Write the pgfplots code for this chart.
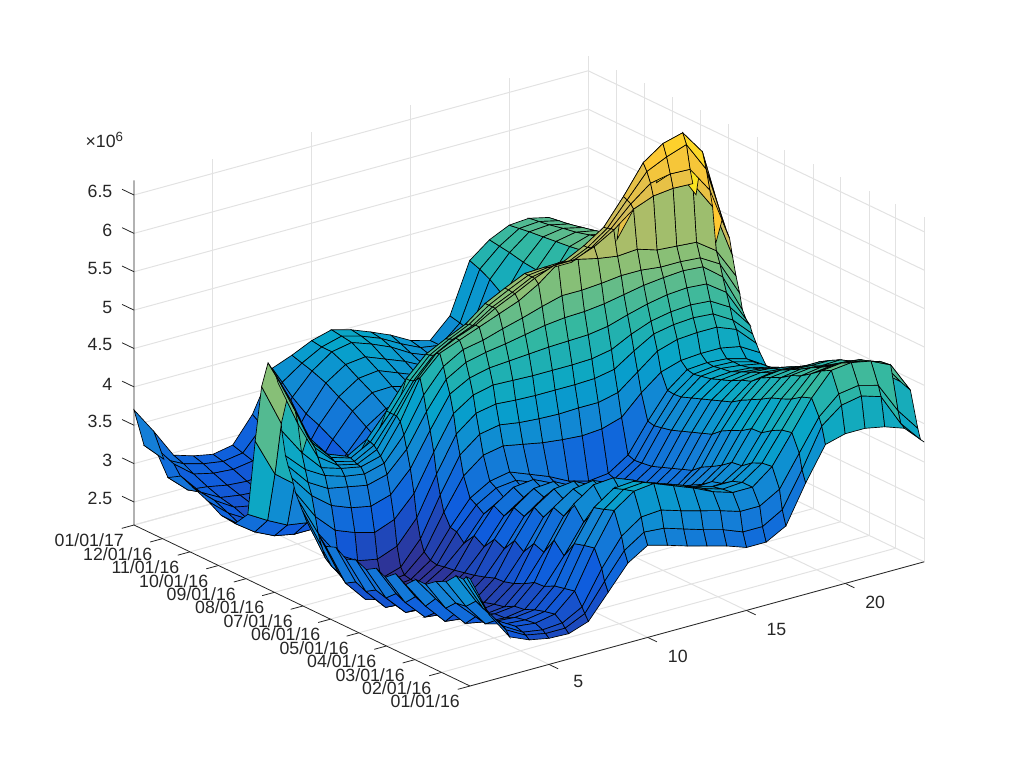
\documentclass[border=0pt]{standalone}
\usepackage{pgfplots}
\usepackage{pgfplotstable}
\usepackage{fontspec}
\setmainfont{Liberation Sans}
\pgfplotsset{compat=1.18}
\usetikzlibrary{calc}
\definecolor{axc}{RGB}{38,38,38}
\definecolor{grc}{RGB}{226,226,226}
\pgfplotstableread{
0 3.55 3.0 2.65 2.54 2.49 2.48 2.57 2.88 3.19 3.35 3.28 3.2 3.13 3.06 2.97 2.97 3.11 3.6 4.03 4.1 4.1 4.05 3.96 3.71
4 3.55 3.05 2.72 2.58 2.53 2.53 2.65 3.0 3.33 3.5 3.48 3.4 3.32 3.25 3.15 3.15 3.3 3.75 4.25 4.45 4.5 4.42 4.0 3.72
7 3.5 3.05 2.75 2.6 2.56 2.58 2.72 3.15 3.5 3.68 3.7 3.62 3.55 3.48 3.4 3.4 3.55 3.95 4.35 4.58 4.62 4.55 4.15 3.85
15 3.5 3.1 2.78 2.63 2.6 2.65 2.88 3.37 3.79 3.97 4.0 3.9 3.8 3.68 3.6 3.6 3.8 4.17 4.55 4.84 4.87 4.82 4.7 4.3
26 3.36 2.97 2.67 2.6 2.58 2.62 2.85 3.34 3.74 3.93 3.95 3.86 3.77 3.66 3.58 3.6 3.78 4.14 4.5 4.77 4.8 4.76 4.68 4.35
37 3.3 2.95 2.7 2.57 2.55 2.58 2.82 3.3 3.7 3.88 3.9 3.81 3.72 3.62 3.55 3.55 3.72 4.07 4.41 4.67 4.7 4.66 4.62 4.35
48 3.2 2.82 2.55 2.5 2.48 2.52 2.75 3.08 3.45 3.62 3.65 3.58 3.5 3.4 3.45 3.46 3.62 3.98 4.35 4.58 4.62 4.6 4.58 4.35
59 3.2 2.88 2.62 2.5 2.47 2.5 2.74 3.22 3.62 3.8 3.82 3.72 3.6 3.48 3.4 3.42 3.6 3.97 4.3 4.52 4.55 4.52 4.5 4.32
70 3.07 2.72 2.45 2.42 2.4 2.43 2.66 3.0 3.4 3.58 3.6 3.5 3.38 3.26 3.3 3.32 3.5 3.88 4.22 4.43 4.47 4.44 4.45 4.3
81 3.15 2.78 2.5 2.38 2.36 2.4 2.6 3.05 3.45 3.62 3.66 3.55 3.43 3.3 3.22 3.25 3.42 3.82 4.15 4.37 4.4 4.38 4.38 4.28
92 3.04 2.64 2.38 2.35 2.33 2.36 2.56 2.88 3.26 3.43 3.46 3.35 3.23 3.1 3.15 3.17 3.35 3.75 4.08 4.3 4.33 4.3 4.3 4.18
102 3.1 2.7 2.42 2.32 2.3 2.34 2.55 2.97 3.33 3.5 3.53 3.4 3.27 3.12 3.03 3.06 3.25 3.65 4.0 4.2 4.24 4.22 4.2 4.05
113 3.02 2.58 2.32 2.3 2.28 2.3 2.5 2.8 3.15 3.33 3.35 3.21 3.08 2.95 3.0 3.02 3.2 3.6 3.95 4.15 4.18 4.15 4.12 3.98
124 3.08 2.62 2.35 2.26 2.24 2.27 2.46 2.86 3.2 3.38 3.4 3.27 3.15 3.02 2.95 2.97 3.15 3.55 3.9 4.08 4.12 4.1 4.05 3.9
135 3.03 2.54 2.26 2.24 2.22 2.25 2.43 2.7 3.03 3.2 3.23 3.1 2.98 2.85 2.9 2.92 3.1 3.5 3.85 4.03 4.06 4.03 3.98 3.82
146 3.12 2.6 2.3 2.22 2.2 2.23 2.4 2.78 3.1 3.27 3.3 3.18 3.07 2.93 2.86 2.88 3.05 3.45 3.8 3.98 4.0 3.98 3.92 3.76
157 3.07 2.52 2.24 2.2 2.18 2.22 2.38 2.62 2.93 3.08 3.11 3.0 2.9 2.78 2.84 2.86 3.03 3.42 3.75 3.95 3.98 3.95 3.9 3.72
165 3.18 2.62 2.3 2.19 2.17 2.2 2.36 2.72 3.0 3.15 3.18 3.08 3.0 2.88 2.83 2.85 3.02 3.4 3.74 3.93 3.96 3.95 3.88 3.7
172 3.2 2.65 2.32 2.2 2.17 2.2 2.38 2.74 3.05 3.2 3.25 3.15 3.05 2.92 2.85 2.88 3.05 3.42 3.75 3.95 3.97 3.95 3.88 3.72
179 3.3 2.72 2.35 2.22 2.18 2.22 2.45 2.9 3.3 3.5 3.55 3.5 3.45 3.42 3.4 3.42 3.5 3.75 3.95 4.03 4.05 4.05 4.0 3.85
183 3.4 2.85 2.42 2.28 2.22 2.3 2.6 3.1 3.55 3.75 3.8 3.76 3.74 3.73 3.74 3.74 3.8 4.0 4.2 4.28 4.3 4.3 4.2 3.95
187 3.5 3.0 2.65 2.5 2.45 2.55 2.85 3.35 3.8 4.0 4.05 4.03 4.02 4.02 4.02 4.03 4.08 4.25 4.4 4.45 4.47 4.45 4.3 4.05
190 3.58 3.2 2.95 2.85 2.78 2.88 3.15 3.62 4.05 4.22 4.28 4.27 4.26 4.26 4.26 4.27 4.32 4.45 4.55 4.6 4.62 4.6 4.45 4.15
194 3.75 3.45 3.25 3.15 3.1 3.18 3.45 3.88 4.28 4.42 4.48 4.5 4.52 4.54 4.55 4.56 4.6 4.68 4.75 4.8 4.82 4.8 4.62 4.2
198 3.88 3.6 3.45 3.4 3.35 3.42 3.68 4.1 4.45 4.6 4.66 4.7 4.75 4.8 4.83 4.84 4.87 4.92 4.97 5.0 5.02 5.0 4.8 4.3
201 4.0 3.75 3.6 3.52 3.48 3.55 3.85 4.3 4.6 4.75 4.8 4.88 4.95 5.03 5.1 5.1 5.12 5.15 5.15 5.12 5.12 5.1 4.95 4.5
205 4.3 3.95 3.68 3.6 3.55 3.62 4.0 4.5 4.75 4.85 4.95 5.05 5.15 5.3 5.5 5.48 5.42 5.38 5.4 5.32 5.3 5.28 5.1 4.7
209 4.9 4.3 3.8 3.62 3.56 3.68 4.05 4.45 4.72 4.85 4.95 5.1 5.22 5.35 5.45 5.45 5.55 5.7 5.9 6.0 6.03 6.02 5.65 4.95
212 5.0 4.45 3.9 3.65 3.58 3.72 4.05 4.42 4.68 4.82 4.93 5.1 5.22 5.35 5.4 5.4 5.52 5.7 5.95 6.15 6.2 6.19 5.85 5.15
216 5.05 4.55 3.95 3.68 3.6 3.74 4.05 4.4 4.66 4.8 4.92 5.1 5.23 5.35 5.38 5.38 5.5 5.68 5.98 6.28 6.4 6.49 6.1 5.25
220 5.1 4.6 4.0 3.7 3.6 3.75 4.05 4.4 4.65 4.78 4.9 5.1 5.23 5.35 5.36 5.37 5.5 5.67 6.0 6.37 6.55 6.62 6.3 5.35
227 4.75 4.2 3.7 3.5 3.45 3.55 3.8 4.1 4.3 4.4 4.45 4.5 4.5 4.5 4.5 4.55 4.7 5.0 5.4 5.8 6.0 6.1 5.7 5.0
234 4.0 3.5 3.3 3.25 3.2 3.25 3.4 3.7 3.9 4.0 4.0 3.98 3.95 3.95 4.0 4.05 4.25 4.6 5.0 5.4 5.6 5.6 5.2 4.6
242 3.0 2.85 2.72 2.68 2.65 2.7 2.85 3.1 3.35 3.5 3.5 3.5 3.5 3.5 3.5 3.55 3.8 4.2 4.7 5.1 5.3 5.25 4.9 4.4
256 2.8 2.62 2.5 2.45 2.45 2.5 2.62 2.95 3.2 3.33 3.35 3.3 3.27 3.22 3.2 3.25 3.5 3.95 4.5 4.95 5.1 5.05 4.75 4.3
271 2.82 2.62 2.48 2.42 2.4 2.45 2.6 2.95 3.22 3.37 3.4 3.35 3.3 3.25 3.2 3.25 3.5 3.95 4.5 4.9 5.02 4.98 4.7 4.3
285 2.92 2.7 2.55 2.5 2.48 2.52 2.68 3.05 3.33 3.5 3.52 3.46 3.4 3.33 3.28 3.3 3.5 3.98 4.48 4.85 4.95 4.9 4.65 4.3
300 3.0 2.78 2.62 2.57 2.55 2.6 2.78 3.15 3.45 3.62 3.63 3.56 3.48 3.4 3.35 3.36 3.55 4.02 4.48 4.82 4.9 4.85 4.62 4.3
315 3.08 2.8 2.66 2.62 2.6 2.65 2.85 3.25 3.55 3.72 3.75 3.65 3.55 3.45 3.4 3.42 3.6 4.08 4.5 4.8 4.85 4.8 4.6 4.3
329 2.98 2.75 2.72 2.67 2.65 2.68 2.92 3.32 3.65 3.82 3.85 3.75 3.65 3.52 3.45 3.45 3.63 4.15 4.52 4.78 4.82 4.76 4.55 4.3
344 3.3 3.0 2.8 2.74 2.72 2.76 3.0 3.45 3.72 3.9 3.95 3.86 3.75 3.6 3.5 3.48 3.68 4.28 4.56 4.76 4.78 4.72 4.52 4.28
355 3.25 3.0 2.87 2.8 2.76 2.8 3.08 3.58 3.76 3.9 3.97 3.9 3.8 3.66 3.54 3.5 3.72 4.35 4.58 4.74 4.76 4.7 4.5 4.26
366 3.65 3.3 2.92 2.84 2.79 2.84 3.17 3.7 3.8 3.92 3.99 3.92 3.82 3.71 3.57 3.5 3.75 4.4 4.6 4.72 4.74 4.68 4.48 4.25
}\demand
\gdef\surfcoords{}
\pgfplotstablegetrowsof{\demand}\pgfmathtruncatemacro\lastrow{\pgfplotsretval-1}
\foreach \r in {0,...,\lastrow}{%
  \pgfplotstablegetelem{\r}{[index]0}\of\demand \let\thisday\pgfplotsretval
  \foreach \c in {1,...,24}{%
    \pgfplotstablegetelem{\r}{[index]\c}\of\demand
    \xdef\surfcoords{\surfcoords (\c,\thisday,\pgfplotsretval)}%
  }%
}
\pgfplotsset{
  colormap={parulaold}{rgb255=(53,42,135) rgb255=(15,92,221) rgb255=(20,129,214) rgb255=(6,164,202) rgb255=(46,183,164) rgb255=(135,191,119) rgb255=(209,187,89) rgb255=(254,200,50) rgb255=(249,251,14)}
}
\begin{document}
\begin{tikzpicture}
\begin{axis}[
  x={(14.81pt,4.05pt)}, y={(-0.6885pt,0.3299pt)}, z={(0pt,57.56pt)},
  xmin=1, xmax=24, ymin=0, ymax=366, zmin=2.2, zmax=6.69,
  clip=false,
  axis line style={draw=none},
  grid=major, grid style={grc, line width=0.75pt},
  xtick={5,10,15,20},
  ytick={0,31,60,91,121,152,182,213,244,274,305,335,366},
  yticklabels={01/01/16,02/01/16,03/01/16,04/01/16,05/01/16,06/01/16,07/01/16,08/01/16,09/01/16,10/01/16,11/01/16,12/01/16,01/01/17},
  ztick={2.5,3,3.5,4,4.5,5,5.5,6,6.5},
  scaled z ticks=false,
  tick align=outside, major tick length=0pt,
  ticklabel style={font=\fontsize{13.3}{15}\selectfont, text=axc, /pgf/number format/assume math mode=true},
  xticklabel style={xshift=16.5pt, yshift=-4.5pt},
  yticklabel style={xshift=-21pt, yshift=5pt},
  zticklabel style={/pgf/number format/fixed, xshift=-12.75pt, yshift=1.5pt},
  colormap name=parulaold,
  point meta min=2.15, point meta max=6.95,
  unbounded coords=jump,
]
\addplot3[grc, line width=0.75pt, no marks] coordinates {(1,366,2.2)(24,366,2.2)(24,0,2.2)};
\addplot3[grc, line width=0.75pt, no marks] coordinates {(24,366,2.2)(24,366,6.69)};
\addplot3[grc, line width=0.75pt, no marks] coordinates {(24,0,2.2)(24,0,6.69)};
\addplot3[axc, line width=0.6pt, no marks] coordinates {(1,366,6.69)(1,366,2.2)(1,0,2.2)(24,0,2.2)};
% tick marks
\addplot3[axc, line width=0.6pt, no marks] coordinates {
(5,0,2.2)(5,-10,2.2)(nan,nan,nan)(10,0,2.2)(10,-10,2.2)(nan,nan,nan)(15,0,2.2)(15,-10,2.2)(nan,nan,nan)(20,0,2.2)(20,-10,2.2)(nan,nan,nan)
(1,0,2.2)(0.38,0,2.2)(nan,nan,nan)(1,31,2.2)(0.38,31,2.2)(nan,nan,nan)(1,60,2.2)(0.38,60,2.2)(nan,nan,nan)(1,91,2.2)(0.38,91,2.2)(nan,nan,nan)
(1,121,2.2)(0.38,121,2.2)(nan,nan,nan)(1,152,2.2)(0.38,152,2.2)(nan,nan,nan)(1,182,2.2)(0.38,182,2.2)(nan,nan,nan)(1,213,2.2)(0.38,213,2.2)(nan,nan,nan)
(1,244,2.2)(0.38,244,2.2)(nan,nan,nan)(1,274,2.2)(0.38,274,2.2)(nan,nan,nan)(1,305,2.2)(0.38,305,2.2)(nan,nan,nan)(1,335,2.2)(0.38,335,2.2)(nan,nan,nan)(1,366,2.2)(0.38,366,2.2)(nan,nan,nan)
(1,366,2.5)(1,379,2.5)(nan,nan,nan)(1,366,3)(1,379,3)(nan,nan,nan)(1,366,3.5)(1,379,3.5)(nan,nan,nan)(1,366,4)(1,379,4)(nan,nan,nan)(1,366,4.5)(1,379,4.5)(nan,nan,nan)
(1,366,5)(1,379,5)(nan,nan,nan)(1,366,5.5)(1,379,5.5)(nan,nan,nan)(1,366,6)(1,379,6)(nan,nan,nan)(1,366,6.5)(1,379,6.5)
};
\edef\temp{\noexpand\addplot3[surf, shader=flat corner, draw=black, line width=0.5pt, z buffer=sort, mesh/rows=43, mesh/ordering=x varies, z filter/.expression={z+0.05}] coordinates {\surfcoords};}
\temp
\coordinate (F) at (axis cs:1,0,2.2);
\end{axis}
\path ($(F)+(-352.5pt,-61.5pt)$) rectangle ($(F)+(415.5pt,514.5pt)$);
\node[anchor=west, text=axc, font=\fontsize{13.3}{15}\selectfont, inner sep=0pt] at ($(F)+(-288.5pt,409.5pt)$) {×10\raisebox{5pt}{\fontsize{10}{12}\selectfont 6}};
\end{tikzpicture}
\end{document}
